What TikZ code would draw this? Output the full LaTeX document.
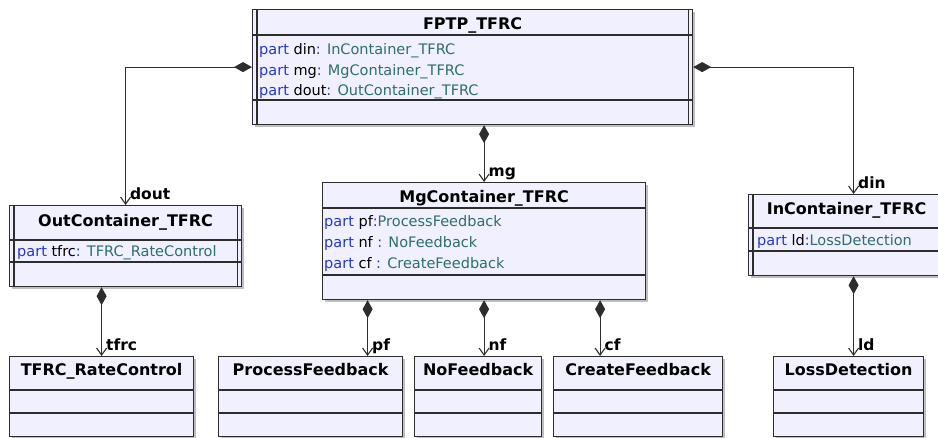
\documentclass[tikz,border=0pt]{standalone}
\usepackage{fontspec}
\setmainfont{DejaVu Sans}
\usepackage{tikz}
\usetikzlibrary{arrows.meta,shadows,positioning,calc}

\definecolor{linecol}{RGB}{45,45,45}
\definecolor{boxfill}{RGB}{240,240,255}
\definecolor{kwcol}{RGB}{35,55,205}
\definecolor{tycol}{RGB}{45,110,110}

\tikzset{
  cls/.style={rectangle, draw=linecol, fill=boxfill, line width=1.2pt, inner sep=0pt,
    anchor=north west, drop shadow={shadow xshift=2.5pt, shadow yshift=-2.5pt, fill=black!25, opacity=1}},
  ttl/.style={anchor=base, inner sep=0pt, font=\fontsize{16}{19}\selectfont\bfseries},
  att/.style={anchor=base west, inner sep=0pt, font=\fontsize{14.5}{17}\selectfont},
  sep/.style={draw=linecol, line width=1.1pt},
  comp/.style={draw=linecol, line width=1.1pt,
    {Diamond[length=18pt,width=10pt]}-{Straight Barb[length=7pt,width=10pt]}},
  role/.style={anchor=base west, inner sep=0pt, xshift=4pt, yshift=5pt,
    font=\fontsize{15.5}{18}\selectfont\bfseries}
}
\newcommand{\kw}[1]{\textcolor{kwcol}{#1}}
\newcommand{\ty}[1]{\textcolor{tycol}{#1}}

\begin{document}
\begin{tikzpicture}[x=1pt, y=-1pt]
  \useasboundingbox (0,0) rectangle (938,438);

  % containers
  \node[cls, minimum width=440, minimum height=115] (fptp) at (252,9) {};
  \node[cls, minimum width=232, minimum height=81] (outc) at (9,205) {};
  \node[cls, minimum width=323, minimum height=117] (mgc) at (322,182) {};
  \node[cls, minimum width=196, minimum height=81] (inc) at (748,194) {};

  % parts
  \node[cls, minimum width=184, minimum height=80] (tfrc) at (9,356) {};
  \node[cls, minimum width=184, minimum height=80] (pf) at (218,356) {};
  \node[cls, minimum width=127, minimum height=80] (nf) at (414,356) {};
  \node[cls, minimum width=169, minimum height=80] (cf) at (553,356) {};
  \node[cls, minimum width=150, minimum height=80] (ld) at (773,356) {};

  % double borders of the active classes
  \foreach \b in {fptp,outc,inc} {
    \draw[sep] ([xshift=5pt]\b.north west) -- ([xshift=5pt]\b.south west);
    \draw[sep] ([xshift=-5pt]\b.north east) -- ([xshift=-5pt]\b.south east);
  }

  % compartments
  \foreach \b/\s/\t in {fptp/26/91, outc/35/57, mgc/26/93, inc/34/57,
                        tfrc/34/57, pf/34/57, nf/34/57, cf/34/57, ld/34/57} {
    \draw[sep] ([yshift=-\s pt]\b.north west) -- ([yshift=-\s pt]\b.north east);
    \draw[sep] ([yshift=-\t pt]\b.north west) -- ([yshift=-\t pt]\b.north east);
  }

  % titles
  \node[ttl] (fptp-t) at ([yshift=-21pt]fptp.north) {FPTP\_TFRC};
  \node[ttl] (outc-t) at ([yshift=-22pt]outc.north) {OutContainer\_TFRC};
  \node[ttl] (mgc-t) at ([yshift=-21pt]mgc.north) {MgContainer\_TFRC};
  \node[ttl] (inc-t) at ([yshift=-21pt]inc.north) {InContainer\_TFRC};
  \node[ttl] (tfrc-t) at ([yshift=-20pt]tfrc.north) {TFRC\_RateControl};
  \node[ttl] (pf-t) at ([yshift=-20pt]pf.north) {ProcessFeedback};
  \node[ttl] (nf-t) at ([yshift=-20pt]nf.north) {NoFeedback};
  \node[ttl] (cf-t) at ([yshift=-20pt]cf.north) {CreateFeedback};
  \node[ttl] (ld-t) at ([yshift=-20pt]ld.north) {LossDetection};

  % attributes
  \node[att] (fptp-a1) at ([xshift=7pt,yshift=-46pt]fptp.north west) {\kw{part} din\kw{:} \ty{InContainer\_TFRC}};
  \node[att] (fptp-a2) at ([xshift=7pt,yshift=-67pt]fptp.north west) {\kw{part} mg\kw{:} \ty{MgContainer\_TFRC}};
  \node[att] (fptp-a3) at ([xshift=7pt,yshift=-87pt]fptp.north west) {\kw{part} dout\kw{:} \ty{OutContainer\_TFRC}};
  \node[att] (outc-a1) at ([xshift=8pt,yshift=-52pt]outc.north west) {\kw{part} tfrc\kw{:} \ty{TFRC\_RateControl}};
  \node[att] (mgc-a1) at ([xshift=2pt,yshift=-45pt]mgc.north west) {\kw{part} pf\kw{:}\ty{ProcessFeedback}};
  \node[att] (mgc-a2) at ([xshift=2pt,yshift=-66pt]mgc.north west) {\kw{part} nf \kw{:} \ty{NoFeedback}};
  \node[att] (mgc-a3) at ([xshift=2pt,yshift=-87pt]mgc.north west) {\kw{part} cf \kw{:} \ty{CreateFeedback}};
  \node[att] (inc-a1) at ([xshift=9pt,yshift=-52pt]inc.north west) {\kw{part} ld\kw{:}\ty{LossDetection}};

  % link ends
  \coordinate (din-in) at ([xshift=7pt]inc.north);
  \coordinate (pf-in) at ([xshift=57pt]pf.north);
  \coordinate (cf-in) at ([xshift=-38pt]cf.north);
  \coordinate (ld-in) at ([xshift=5pt]ld.north);

  % composition links
  \draw[comp] (fptp.west) -| (outc.north) node[role] {dout};
  \draw[comp] (fptp.south -| mgc.north) -- (mgc.north) node[role] {mg};
  \draw[comp] (fptp.east) -| (din-in) node[role] {din};
  \draw[comp] (outc.south -| tfrc.north) -- (tfrc.north) node[role] {tfrc};
  \draw[comp] (mgc.south -| pf-in) -- (pf-in) node[role] {pf};
  \draw[comp] (mgc.south) -- (mgc.south |- nf.north) node[role] {nf};
  \draw[comp] (mgc.south -| cf-in) -- (cf-in) node[role] {cf};
  \draw[comp] (inc.south -| ld-in) -- (ld-in) node[role] {ld};
\end{tikzpicture}
\end{document}
